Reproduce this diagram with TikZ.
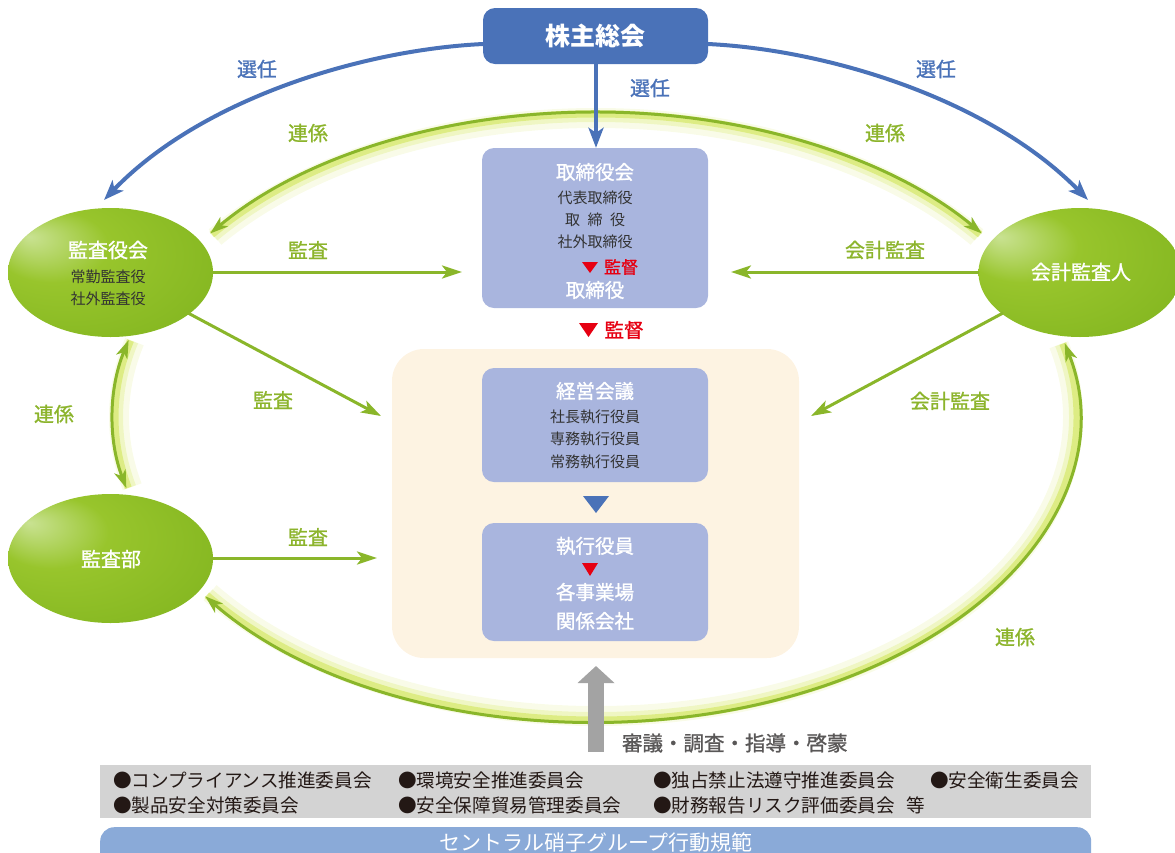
\documentclass[tikz,border=0pt]{standalone}
\usepackage{fontspec}
\setmainfont{Noto Sans CJK JP}
\newfontfamily\labfont[FakeBold=1.2]{Noto Sans CJK JP}
\usetikzlibrary{arrows.meta,shapes.geometric}
\definecolor{blueC}{HTML}{4A72B8}
\definecolor{lavC}{HTML}{A9B5DE}
\definecolor{beigeC}{HTML}{FDF3E2}
\definecolor{greenT}{HTML}{8CB42C}
\definecolor{gLine}{HTML}{8AB62A}
\definecolor{glowC}{HTML}{D2E65A}
\definecolor{redC}{HTML}{E60012}
\definecolor{grayA}{HTML}{A3A3A3}
\definecolor{grayT}{HTML}{595757}
\definecolor{boxGray}{HTML}{D3D3D3}
\definecolor{barBlue}{HTML}{8AAAD8}
\definecolor{darkT}{HTML}{333333}
\definecolor{listT}{HTML}{231815}
\definecolor{gHi}{HTML}{C9E292}
\definecolor{gMid}{HTML}{98C52C}
\definecolor{gMain}{HTML}{86B822}
\definecolor{gDark}{HTML}{6C9A18}
\pgfdeclareradialshading{gball}{\pgfpoint{-20bp}{14bp}}{color(0bp)=(gHi); color(14bp)=(gMid); color(34bp)=(gMain); color(50bp)=(gDark)}
\newcommand\myglow[2]{%
  \draw[glowC, opacity=0.14, line width=20pt] ({596+477*cos(#1)},{417+299*sin(#1)}) arc[start angle=#1, end angle=#2, x radius=477, y radius=299];
  \draw[glowC, opacity=0.26, line width=12pt] ({596+479*cos(#1)},{417+301*sin(#1)}) arc[start angle=#1, end angle=#2, x radius=479, y radius=301];
  \draw[glowC, opacity=0.6, line width=7pt] ({596+481*cos(#1)},{417+303*sin(#1)}) arc[start angle=#1, end angle=#2, x radius=481, y radius=303];
}
\tikzset{
  fz/.style={font=\fontsize{#1}{#1}\selectfont},
  lz/.style={font=\labfont\fontsize{#1}{#1}\selectfont},
  txt/.style={inner sep=0pt, outer sep=0pt},
  gellipse/.style={ellipse, shading=gball, minimum width=205pt, minimum height=129pt, inner sep=0pt},
  rbox/.style={fill=lavC, rounded corners=12pt, minimum width=226pt, inner sep=0pt},
  garrow/.style={draw=gLine, line width=3pt, -{Stealth[length=20pt,width=13pt,inset=5pt]}},
  garc/.style={draw=gLine, line width=3pt, {Stealth[length=18pt,width=12pt,inset=5pt]}-{Stealth[length=18pt,width=12pt,inset=5pt]}},
  barrow/.style={draw=blueC, line width=4pt, -{Stealth[length=20pt,width=15pt,inset=5pt]}},
  glab/.style={txt, text=greenT, lz=20},
  blab/.style={txt, text=blueC, lz=20},
  ltxt/.style={txt, anchor=west, text=listT, fz=18.6},
}
\begin{document}
\begin{tikzpicture}[x=1pt, y=-1pt]
\useasboundingbox (0,0) rectangle (1175,852);
% glow of liaison arcs
\myglow{217}{323}
\myglow{194.6}{166.5}
\myglow{144}{-14}
% nodes
\node[fill=beigeC, rounded corners=32pt, minimum width=407pt, minimum height=309pt, inner sep=0pt] (beige) at (595.5,503.5) {};
\node[fill=blueC, rounded corners=12pt, minimum width=225pt, minimum height=56pt, inner sep=0pt] (sh) at (595.5,36) {};
\node[txt, text=white, fz=25] (shT) at (595,36) {\bfseries 株主総会};
\node[rbox, minimum height=160pt] (bd) at (595,228) {};
\node[rbox, minimum height=114pt] (mg) at (595,425) {};
\node[rbox, minimum height=118pt] (ex) at (595,582) {};
\node[gellipse] (ka) at (110.5,272.5) {};
\node[gellipse] (ia) at (110.5,558.5) {};
\node[gellipse, minimum width=203pt] (ca) at (1080,272.5) {};
% board texts
\node[txt, text=white, lz=19.5] (bd1) at (595,172) {取締役会};
\node[txt, text=darkT, fz=15] (bd2) at (595,198) {代表取締役};
\node[txt, text=darkT, fz=15] (bd3) at (595,220) {取\hspace{7.5pt}締\hspace{7.5pt}役};
\node[txt, text=darkT, fz=15] (bd4) at (595,242) {社外取締役};
\node[txt, text=redC, lz=17] (bd5) at (621,267) {監督};
\node[txt, text=white, lz=19.5] (bd6) at (595,290) {取締役};
\fill[redC] (582,262) -- (598,262) -- (590,273) -- cycle;
% supervise between
\node[txt, text=redC, lz=19.5] (sv) at (624,330) {監督};
\fill[redC] (579,323) -- (598,323) -- (588.5,337) -- cycle;
% management meeting
\node[txt, text=white, lz=19.5] (mg1) at (595,391) {経営会議};
\node[txt, text=darkT, fz=15] (mg2) at (595,417) {社長執行役員};
\node[txt, text=darkT, fz=15] (mg3) at (595,439) {専務執行役員};
\node[txt, text=darkT, fz=15] (mg4) at (595,462) {常務執行役員};
\fill[blueC] (583,496) -- (609,496) -- (596,513) -- cycle;
% executive officers
\node[txt, text=white, lz=19.5] (ex1) at (595,546) {執行役員};
\fill[redC] (582,563) -- (598,563) -- (590,576) -- cycle;
\node[txt, text=white, lz=19.5] (ex2) at (595,592) {各事業場};
\node[txt, text=white, lz=19.5] (ex3) at (595,621) {関係会社};
% ellipse texts
\node[txt, text=white, lz=20] (ka1) at (108,250) {監査役会};
\node[txt, text=darkT, fz=15] (ka2) at (108,277) {常勤監査役};
\node[txt, text=darkT, fz=15] (ka3) at (108,299) {社外監査役};
\node[txt, text=white, lz=20] (ia1) at (111,559) {監査部};
\node[txt, text=white, lz=20] (ca1) at (1081,272) {会計監査人};
% liaison arcs
\coordinate (aTL) at ({596+483*cos(217)},{417+305*sin(217)});
\coordinate (aLL) at ({596+483*cos(194.6)},{417+305*sin(194.6)});
\coordinate (aBL) at ({596+483*cos(144)},{417+305*sin(144)});
\draw[garc] (aTL) arc[start angle=217, end angle=323, x radius=483, y radius=305];
\draw[garc] (aLL) arc[start angle=194.6, end angle=166.5, x radius=483, y radius=305];
\draw[garc] (aBL) arc[start angle=144, end angle=-14, x radius=483, y radius=305];
% blue election arrows
\coordinate (shL) at (483,44);
\coordinate (shR) at (708,44);
\coordinate (kaT) at (104,200);
\coordinate (caT) at (1088,200);
\draw[barrow] (shL) .. controls (360,50) and (200,100) .. (kaT);
\draw[barrow] (shR) .. controls (830,50) and (990,100) .. (caT);
\draw[barrow] (sh.south -| 596,0) -- (bd.north -| 596,0);
% audit arrows
\coordinate (kaE) at (212,272);
\coordinate (bdW) at (462,272);
\coordinate (kaSE) at (188,313);
\coordinate (bgNW) at (381,416);
\coordinate (iaE) at (213,558);
\coordinate (bgW) at (377,558);
\coordinate (caW) at (979,272);
\coordinate (bdE) at (731,272);
\coordinate (caSW) at (1003,313);
\coordinate (bgNE) at (811,416);
\draw[garrow] (kaE) -- (bdW);
\draw[garrow] (kaSE) -- (bgNW);
\draw[garrow] (iaE) -- (bgW);
\draw[garrow] (caW) -- (bdE);
\draw[garrow] (caSW) -- (bgNE);
% labels
\node[blab] (l1) at (257,69) {選任};
\node[blab] (l2) at (936,69) {選任};
\node[blab] (l3) at (650,88) {選任};
\node[glab] (l4) at (308,133) {連係};
\node[glab] (l5) at (885,133) {連係};
\node[glab] (l6) at (308,250) {監査};
\node[glab] (l7) at (885,250) {会計監査};
\node[glab] (l8) at (273,400) {監査};
\node[glab] (l9) at (54,414) {連係};
\node[glab] (l10) at (308,537) {監査};
\node[glab] (l11) at (950,401) {会計監査};
\node[glab] (l12) at (1015,637) {連係};
% committees
\node[fill=boxGray, minimum width=991pt, minimum height=53pt, inner sep=0pt, anchor=north west] (cmt) at (100,765) {};
\coordinate (gs) at (596,752);
\coordinate (ge) at (596,666);
\draw[grayA, line width=16pt, -{Triangle[length=17pt,width=36pt]}] (gs) -- (ge);
\node[txt, anchor=west, text=grayT, lz=20.5] (rev) at (622,743) {審議・調査・指導・啓蒙};
\node[ltxt] (c1) at (113,780) {●コンプライアンス推進委員会};
\node[ltxt] (c2) at (398,780) {●環境安全推進委員会};
\node[ltxt] (c3) at (653,780) {●独占禁止法遵守推進委員会};
\node[ltxt] (c4) at (930,780) {●安全衛生委員会};
\node[ltxt] (c5) at (113,805) {●製品安全対策委員会};
\node[ltxt] (c6) at (398,805) {●安全保障貿易管理委員会};
\node[ltxt] (c7) at (653,805) {●財務報告リスク評価委員会\hspace{12pt}等};
% code of conduct bar
\node[fill=barBlue, rounded corners=14pt, minimum width=991pt, minimum height=44pt, inner sep=0pt, anchor=north west] (bar) at (100,827) {};
\node[txt, text=white, fz=21] (barT) at (596,843) {セントラル硝子グループ行動規範};
\end{tikzpicture}
\end{document}
